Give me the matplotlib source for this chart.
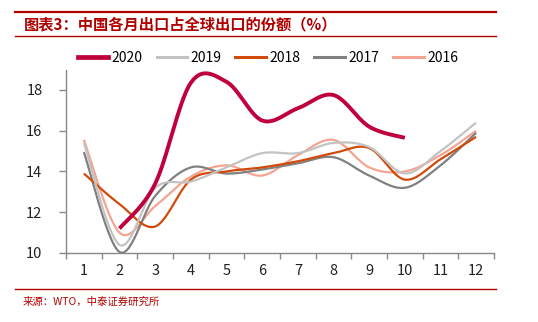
import numpy as np
import matplotlib.pyplot as plt
from matplotlib.lines import Line2D

plt.rcParams['font.family'] = ['Noto Sans CJK SC', 'DejaVu Sans']

months = list(range(1, 13))
s2020 = [None, 11.2, 13.4, 18.35, 18.4, 16.5, 17.1, 17.75, 16.2, 15.65, None, None]
s2019 = [15.4, 10.4, 13.2, 13.5, 14.2, 14.9, 14.9, 15.4, 15.2, 13.9, 15.0, 16.4]
s2018 = [13.9, 12.4, 11.3, 13.6, 14.0, 14.2, 14.5, 14.9, 15.15, 13.6, 14.6, 15.7]
s2017 = [14.95, 10.05, 12.8, 14.2, 13.9, 14.1, 14.4, 14.7, 13.8, 13.2, 14.3, 15.9]
s2016 = [15.55, 11.0, 12.3, 13.75, 14.3, 13.8, 14.8, 15.55, 14.2, 14.0, 14.8, 16.0]

series = [
    ('2020', s2020, '#C0003C', 2.8),
    ('2019', s2019, '#C3C3C3', 1.6),
    ('2018', s2018, '#D24A0A', 1.6),
    ('2017', s2017, '#808080', 1.6),
    ('2016', s2016, '#F5A491', 1.6),
]


def smooth(xs, ys, n=30):
    # catmull-rom through the points, like the excel smoothed line
    xs = np.asarray(xs, float)
    ys = np.asarray(ys, float)
    px = np.concatenate([[xs[0]], xs, [xs[-1]]])
    py = np.concatenate([[ys[0]], ys, [ys[-1]]])
    ox, oy = [], []
    t = np.linspace(0, 1, n)
    for i in range(1, len(px) - 2):
        for p, out in ((px, ox), (py, oy)):
            p0, p1, p2, p3 = p[i - 1], p[i], p[i + 1], p[i + 2]
            c1 = p1 + (p2 - p0) / 6
            c2 = p2 - (p3 - p1) / 6
            out.extend((1 - t) ** 3 * p1 + 3 * (1 - t) ** 2 * t * c1
                       + 3 * (1 - t) * t ** 2 * c2 + t ** 3 * p2)
    return ox, oy


fig = plt.figure(figsize=(5.38, 3.22), dpi=100)
ax = fig.add_axes([0.1227, 0.2143, 0.7955, 0.5696])

handles = []
for name, vals, col, lw in reversed(series):
    xs = [m for m, v in zip(months, vals) if v is not None]
    ys = [v for v in vals if v is not None]
    sx, sy = smooth(xs, ys)
    ax.plot(sx, sy, color=col, lw=lw, solid_capstyle='butt', zorder=3 if name == '2020' else 2)
for name, vals, col, lw in series:
    handles.append(Line2D([], [], color=col, lw=lw + 0.6, label=name))

ax.set_xlim(0.5, 12.5)
ax.set_ylim(10, 19)
ax.set_yticks([10, 12, 14, 16, 18])
ax.set_xticks(months)
ax.set_xticks(np.arange(0.5, 13, 1), minor=True)
ax.tick_params(axis='x', which='major', length=0, pad=8, labelsize=10.5, colors='#222222')
ax.tick_params(axis='x', which='minor', length=4, width=1, color='#888888', direction='out')
ax.tick_params(axis='y', length=5, width=1, color='#888888', labelsize=10.5, colors='#222222', pad=12)
for s in ('top', 'right'):
    ax.spines[s].set_visible(False)
for s in ('left', 'bottom'):
    ax.spines[s].set_color('#888888')
    ax.spines[s].set_linewidth(1)

fig.legend(handles=handles, loc='center', bbox_to_anchor=(0.498, 0.82), ncol=5, frameon=False,
           fontsize=10, handlelength=2.2, handletextpad=0.25, columnspacing=1.0)

red = '#B00000'
fig.add_artist(Line2D([15 / 538, 496 / 538], [1 - 12 / 322] * 2, color=red, lw=1.6))
fig.add_artist(Line2D([15 / 538, 496 / 538], [1 - 36 / 322] * 2, color=red, lw=1.0))
fig.add_artist(Line2D([15 / 538, 496 / 538], [1 - 289 / 322] * 2, color=red, lw=1.0))
fig.text(24 / 538, 1 - 24 / 322, '图表3：中国各月出口占全球出口的份额（%）', color=red,
         fontsize=11, fontweight='bold', va='center', ha='left')
fig.text(23 / 538, 1 - 302 / 322, '来源：WTO，中泰证券研究所', color=red,
         fontsize=7.5, va='center', ha='left')

fig.savefig('out.png', dpi=100)
